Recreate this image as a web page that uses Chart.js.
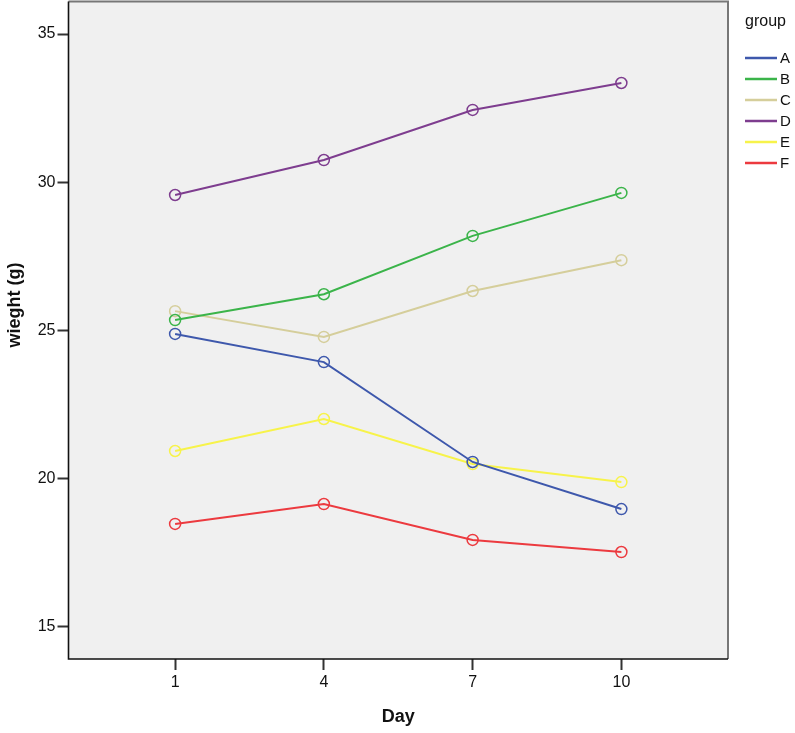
<!DOCTYPE html>
<html>
<head>
<meta charset="utf-8">
<script src="https://cdn.jsdelivr.net/npm/chart.js@4.4.0/dist/chart.umd.min.js"></script>
<style>
html,body{margin:0;padding:0;background:#fff;}
#wrap{width:795px;height:733px;position:relative;}
</style>
</head>
<body>
<div id="wrap"><canvas id="c" width="795" height="733"></canvas></div>
<script>
const days = [1, 4, 7, 10];
const groups = ['A', 'B', 'C', 'D', 'E', 'F'];
const groupA = [24.88, 23.93, 20.56, 18.97];
const groupB = [25.35, 26.22, 28.19, 29.64];
const groupC = [25.65, 24.78, 26.33, 27.37];
const groupD = [29.57, 30.75, 32.44, 33.35];
const groupE = [20.93, 22.01, 20.49, 19.88];
const groupF = [18.47, 19.14, 17.93, 17.52];
const yTicks = [15, 20, 25, 30, 35];
const colors = ['#3e58ac', '#3bb44a', '#d5ce9b', '#7e3d8f', '#f7f34a', '#ec3a3f'];
const seriesValues = [groupA, groupB, groupC, groupD, groupE, groupF];

const datasets = groups.map((g, i) => ({
  label: g,
  data: days.map((d, j) => ({x: d, y: seriesValues[i][j]})),
  borderColor: colors[i],
  backgroundColor: 'rgba(0,0,0,0)',
  borderWidth: 2,
  pointRadius: 5.5,
  pointBorderWidth: 1.5,
  pointBackgroundColor: 'rgba(0,0,0,0)',
  pointBorderColor: colors[i],
  tension: 0
}));

const FONT = "'Liberation Sans', Arial, sans-serif";

const plotDeco = {
  id: 'plotDeco',
  beforeDraw(chart) {
    const {ctx, chartArea: a} = chart;
    ctx.save();
    ctx.fillStyle = '#f0f0f0';
    ctx.fillRect(a.left, a.top, a.right - a.left, a.bottom - a.top);
    ctx.restore();
  },
  afterDraw(chart) {
    const {ctx, chartArea: a} = chart;
    ctx.save();
    ctx.strokeStyle = '#777';
    ctx.lineWidth = 2;
    ctx.beginPath();
    ctx.moveTo(a.left, a.top);
    ctx.lineTo(a.right, a.top);
    ctx.lineTo(a.right, a.bottom);
    ctx.stroke();
    ctx.strokeStyle = '#111';
    ctx.lineWidth = 1.6;
    ctx.beginPath();
    ctx.moveTo(a.left, a.top);
    ctx.lineTo(a.left, a.bottom);
    ctx.lineTo(a.right, a.bottom);
    ctx.stroke();
    ctx.fillStyle = '#111';
    ctx.font = 'bold 18px ' + FONT;
    ctx.textAlign = 'center';
    ctx.textBaseline = 'middle';
    ctx.translate(15, 305);
    ctx.rotate(-Math.PI / 2);
    ctx.fillText('wieght (g)', 0, 0);
    ctx.restore();
    ctx.save();
    ctx.fillStyle = '#111';
    ctx.font = '16px ' + FONT;
    ctx.textAlign = 'left';
    ctx.textBaseline = 'alphabetic';
    ctx.fillText('group', 745, 26);
    ctx.font = '15px ' + FONT;
    ctx.textBaseline = 'middle';
    chart.data.datasets.forEach((ds, i) => {
      const y = 58 + i * 21;
      ctx.strokeStyle = ds.borderColor;
      ctx.lineWidth = 2.5;
      ctx.beginPath();
      ctx.moveTo(745, y);
      ctx.lineTo(777, y);
      ctx.stroke();
      ctx.fillStyle = '#111';
      ctx.fillText(ds.label, 780, y + 1);
    });
    ctx.restore();
  }
};

new Chart(document.getElementById('c'), {
  type: 'line',
  data: { datasets },
  options: {
    responsive: false,
    animation: false,
    devicePixelRatio: 1,
    layout: { autoPadding: false, padding: { top: 1.5, right: 67, left: 0, bottom: 0 } },
    plugins: { legend: { display: false }, tooltip: { enabled: false } },
    scales: {
      x: {
        type: 'linear',
        min: -1.15,
        max: 12.15,
        afterBuildTicks: s => { s.ticks = days.map(v => ({value: v})); },
        afterFit: s => { s.height = 74; s.paddingLeft = 0; s.paddingRight = 0; },
        grid: { drawOnChartArea: false, drawTicks: true, tickLength: 11, tickWidth: 2, tickColor: '#333' },
        border: { display: false },
        ticks: { color: '#111', font: { family: FONT, size: 16 }, padding: 3, maxRotation: 0 },
        title: { display: true, text: 'Day', color: '#111', font: { family: FONT, size: 18, weight: 'bold' }, padding: { top: 0, bottom: 5 } }
      },
      y: {
        type: 'linear',
        min: 13.91,
        max: 36.1,
        afterBuildTicks: s => { s.ticks = yTicks.map(v => ({value: v})); },
        afterFit: s => { s.width = 68.5; s.paddingTop = 0; s.paddingBottom = 0; },
        grid: { drawOnChartArea: false, drawTicks: true, tickLength: 11, tickWidth: 2, tickColor: '#333' },
        border: { display: false },
        ticks: { color: '#111', font: { family: FONT, size: 16 }, padding: 2 }
      }
    }
  },
  plugins: [plotDeco]
});
</script>
</body>
</html>
